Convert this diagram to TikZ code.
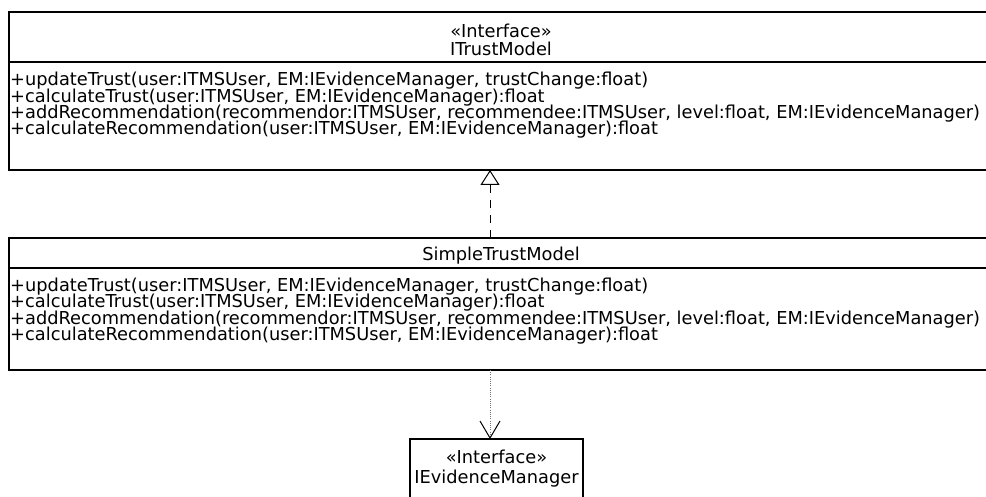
\documentclass[tikz,border=0pt]{standalone}
\usepackage{fontspec}
\setmainfont{DejaVu Sans}
\usetikzlibrary{arrows.meta}
\newcommand\umlfont{\fontsize{17.8}{16.3}\selectfont}
\begin{document}
\begin{tikzpicture}[x=1pt,y=-1pt,
  umlbox/.style={draw=black, line width=1.2pt, fill=white, anchor=north west,
    inner sep=0pt, outer sep=0pt},
  compsep/.style={draw=black, line width=1.2pt},
  optext/.style={anchor=base west, inner sep=0pt, font=\umlfont},
  nametext/.style={anchor=base, inner sep=0pt, font=\umlfont},
  realize/.style={line width=1pt, dash pattern=on 8pt off 7pt,
    -{Triangle[open, length=15pt, width=19pt, line width=1pt]}},
  depend/.style={draw=black!55, line width=0.8pt, dash pattern=on 1pt off 1.2pt,
    -{Straight Barb[length=17pt, width=20pt, line width=1pt, color=black]}}
]
\useasboundingbox (0,0) rectangle (986,497);
\fill[white] (0,0) rectangle (986,497);
\clip (0,0) rectangle (986,497);

% interface ITrustModel
\node[umlbox, minimum width=984pt, minimum height=158pt] (itm) at (9,12) {};
\draw[compsep] ([yshift=-50pt]itm.north west) -- ([yshift=-50pt]itm.north east);
\node[nametext] (itm-st) at (501,37.5) {«Interface»};
\node[nametext] (itm-nm) at (501,55.5) {ITrustModel};
\node[optext] (itm-o1) at (10,86) {+updateTrust(user:ITMSUser, EM:IEvidenceManager, trustChange:float)};
\node[optext] (itm-o2) at (10,102.3) {+calculateTrust(user:ITMSUser, EM:IEvidenceManager):float};
\node[optext] (itm-o3) at (10,118.6) {+addRecommendation(recommendor:ITMSUser, recommendee:ITMSUser, level:float, EM:IEvidenceManager)};
\node[optext] (itm-o4) at (10,135) {+calculateRecommendation(user:ITMSUser, EM:IEvidenceManager):float};

% class SimpleTrustModel
\node[umlbox, minimum width=984pt, minimum height=132pt] (stm) at (9,238) {};
\draw[compsep] ([yshift=-30pt]stm.north west) -- ([yshift=-30pt]stm.north east);
\node[nametext] (stm-nm) at (501,260.5) {SimpleTrustModel};
\node[optext] (stm-o1) at (10,291.5) {+updateTrust(user:ITMSUser, EM:IEvidenceManager, trustChange:float)};
\node[optext] (stm-o2) at (10,307.8) {+calculateTrust(user:ITMSUser, EM:IEvidenceManager):float};
\node[optext] (stm-o3) at (10,324.1) {+addRecommendation(recommendor:ITMSUser, recommendee:ITMSUser, level:float, EM:IEvidenceManager)};
\node[optext] (stm-o4) at (10,340.4) {+calculateRecommendation(user:ITMSUser, EM:IEvidenceManager):float};

% interface IEvidenceManager
\node[umlbox, minimum width=173pt, minimum height=80pt] (iem) at (410,439) {};
\node[nametext] (iem-st) at (496.5,463.5) {«Interface»};
\node[nametext] (iem-nm) at (496.5,483.5) {IEvidenceManager};

% relations
\coordinate (ax) at (490,0);
\draw[realize] (stm.north -| ax) -- (itm.south -| ax);
\draw[depend] (stm.south -| ax) -- (iem.north -| ax);
\end{tikzpicture}
\end{document}
